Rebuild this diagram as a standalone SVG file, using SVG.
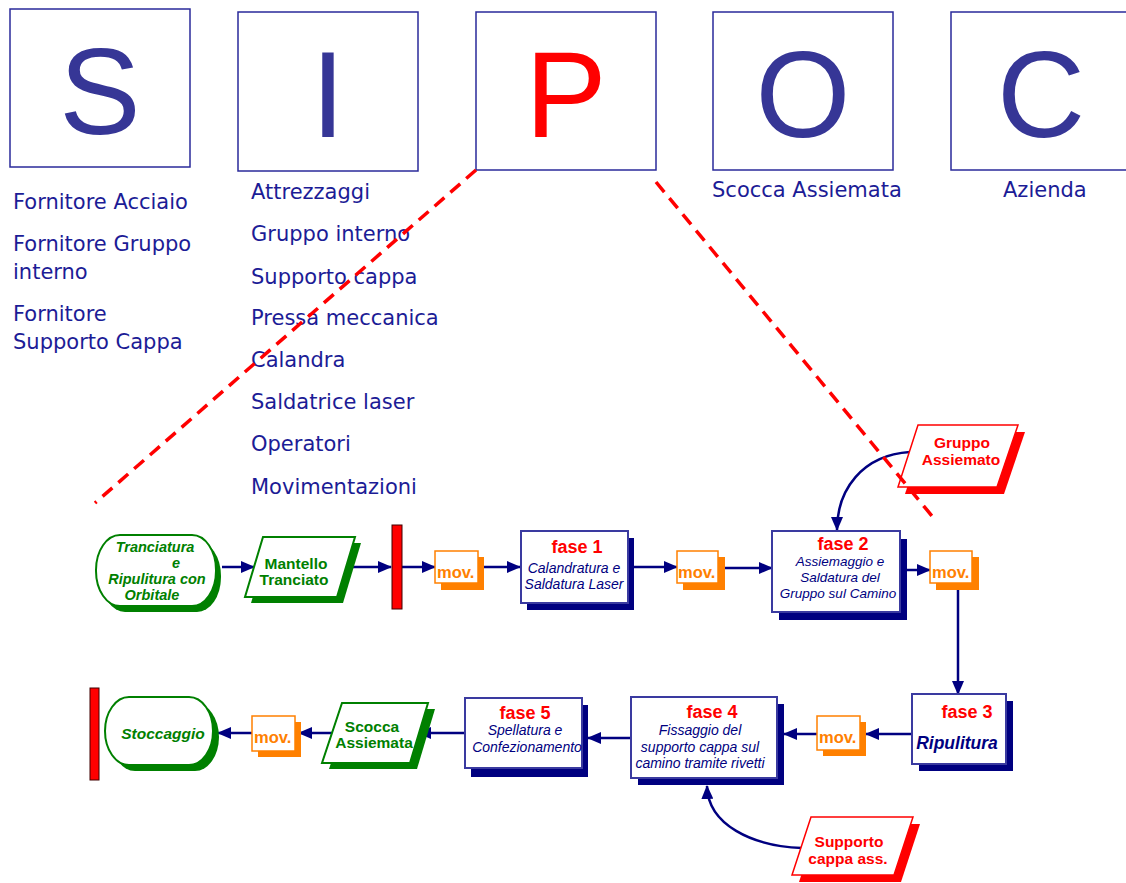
<svg xmlns="http://www.w3.org/2000/svg" width="1126" height="883" viewBox="0 0 1126 883">
<defs>
<marker id="ah" viewBox="0 0 14 12" refX="13" refY="6" markerWidth="14" markerHeight="12" markerUnits="userSpaceOnUse" orient="auto">
<path d="M0,0 L14,6 L0,12 Z" fill="#000080"/>
</marker>
<style>
.lbox{fill:#fff;stroke:#2a2a9a;stroke-width:1.5}
.letter{font-family:"Liberation Sans",Arial,sans-serif;font-size:122px;fill:#363696;text-anchor:middle}
.list{font-family:"DejaVu Sans","Comic Sans MS",sans-serif;font-size:21px;fill:#1c1c96}
.conn{fill:none;stroke:#000080;stroke-width:2.5;marker-end:url(#ah)}
.dash{fill:none;stroke:#ff0000;stroke-width:3.5;stroke-dasharray:13 8}
.fbox{fill:#fff;stroke:#3a3aa0;stroke-width:2}
.fsh{fill:#000080}
.gsh{fill:#008000}
.gshape{fill:#fff;stroke:#008000;stroke-width:2}
.rsh{fill:#ff0000}
.rshape{fill:#fff;stroke:#ff0000;stroke-width:1.5}
.osh{fill:#ff8000}
.oshape{fill:#fff;stroke:#ff8000;stroke-width:1.5}
.bar{fill:#ff0000;stroke:#400000;stroke-width:1}
.ft{font-family:"Liberation Sans",Arial,sans-serif;font-weight:bold;font-size:18px;fill:#ff0000;text-anchor:middle}
.fd{font-family:"Liberation Sans",Arial,sans-serif;font-style:italic;font-size:14px;fill:#000080;text-anchor:middle}
.gt{font-family:"Liberation Sans",Arial,sans-serif;font-weight:bold;font-size:15.5px;fill:#008000;text-anchor:middle}
.gti{font-family:"Liberation Sans",Arial,sans-serif;font-weight:bold;font-style:italic;font-size:14.5px;fill:#008000;text-anchor:middle}
.rt{font-family:"Liberation Sans",Arial,sans-serif;font-weight:bold;font-size:15.5px;fill:#ff0000;text-anchor:middle}
.mt{font-family:"Liberation Sans",Arial,sans-serif;font-weight:bold;font-size:16.5px;fill:#ff8000}
</style>
</defs>
<rect width="1126" height="883" fill="#fff"/>

<g id="sipoc-S"><rect class="lbox" x="10" y="9" width="180" height="158"/><text class="letter" x="100" y="134">S</text></g>
<g id="sipoc-I"><rect class="lbox" x="238" y="12" width="180" height="159"/><text class="letter" x="328" y="137">I</text></g>
<g id="sipoc-P"><rect class="lbox" x="476" y="12" width="180" height="158"/><text class="letter" x="566" y="137" style="fill:#ff0000">P</text></g>
<g id="sipoc-O"><rect class="lbox" x="713" y="12" width="180" height="158"/><text class="letter" x="803" y="137">O</text></g>
<g id="sipoc-C"><rect class="lbox" x="951" y="12" width="180" height="158"/><text class="letter" x="1041" y="137">C</text></g>

<g id="list-S" class="list">
<text x="13" y="209">Fornitore Acciaio</text>
<text x="13" y="251">Fornitore Gruppo</text>
<text x="13" y="279">interno</text>
<text x="13" y="321">Fornitore</text>
<text x="13" y="349">Supporto Cappa</text>
</g>
<g id="list-I" class="list">
<text x="251" y="199">Attrezzaggi</text>
<text x="251" y="241">Gruppo interno</text>
<text x="251" y="284">Supporto cappa</text>
<text x="251" y="325">Pressa meccanica</text>
<text x="251" y="367">Calandra</text>
<text x="251" y="409">Saldatrice laser</text>
<text x="251" y="451">Operatori</text>
<text x="251" y="494">Movimentazioni</text>
</g>
<g id="list-O" class="list"><text x="712" y="197">Scocca Assiemata</text></g>
<g id="list-C" class="list"><text x="1003" y="197">Azienda</text></g>

<g id="connectors">
<path class="conn" d="M222 567 H254"/>
<path class="conn" d="M346 567 H391"/>
<path class="conn" d="M402 567 H435"/>
<path class="conn" d="M484 567 H520"/>
<path class="conn" d="M634 567 H677"/>
<path class="conn" d="M725 568 H772"/>
<path class="conn" d="M907 570 H930"/>
<path class="conn" d="M958 590 V694"/>
<path class="conn" d="M912 734 H866"/>
<path class="conn" d="M817 734 H784"/>
<path class="conn" d="M631 738 H588"/>
<path class="conn" d="M465 733 H418"/>
<path class="conn" d="M333 733 H299"/>
<path class="conn" d="M252 733 H218"/>
<path class="conn" d="M910 452 C862 455 837 490 837 530"/>
<path class="conn" d="M802 848 C752 846 708 825 707 786"/>
</g>

<g id="tranciatura">
<rect class="gsh" x="101" y="541" width="120" height="71" rx="24" ry="35"/>
<rect class="gshape" x="96" y="535" width="120" height="71" rx="24" ry="35"/>
<text class="gti" x="155" y="552">Tranciatura</text>
<text class="gti" x="176" y="568">e</text>
<text class="gti" x="157" y="584">Ripulitura con</text>
<text class="gti" x="152" y="600">Orbitale</text>
</g>
<g id="mantello">
<polygon class="gsh" points="269,543 361,543 343,603 251,603"/>
<polygon class="gshape" points="263,537 355,537 337,597 245,597"/>
<text class="gt" x="296" y="569">Mantello</text>
<text class="gt" x="294" y="585">Tranciato</text>
</g>
<g id="bar1"><rect class="bar" x="392" y="525" width="10" height="84"/></g>
<g id="mov1">
<rect class="osh" x="441" y="557" width="43" height="33"/>
<rect class="oshape" x="435" y="551" width="43" height="32"/>
<text class="mt" x="437" y="578">mov.</text>
</g>
<g id="fase1">
<rect class="fsh" x="527" y="538" width="107" height="72"/>
<rect class="fbox" x="521" y="531" width="107" height="72"/>
<text class="ft" x="577" y="553">fase 1</text>
<text class="fd" x="574" y="573">Calandratura e</text>
<text class="fd" x="574" y="589">Saldatura Laser</text>
</g>
<g id="mov2">
<rect class="osh" x="683" y="557" width="42" height="33"/>
<rect class="oshape" x="677" y="551" width="41" height="32"/>
<text class="mt" x="678" y="578">mov.</text>
</g>
<g id="fase2">
<rect class="fsh" x="779" y="539" width="128" height="81"/>
<rect class="fbox" x="772" y="531" width="128" height="81"/>
<text class="ft" x="843" y="550">fase 2</text>
<text class="fd" x="840" y="566" style="font-size:13.5px">Assiemaggio e</text>
<text class="fd" x="840" y="582" style="font-size:13.5px">Saldatura del</text>
<text class="fd" x="838" y="598" style="font-size:13.5px">Gruppo sul Camino</text>
</g>
<g id="mov3">
<rect class="osh" x="936" y="557" width="43" height="33"/>
<rect class="oshape" x="930" y="551" width="42" height="32"/>
<text class="mt" x="932" y="578">mov.</text>
</g>
<g id="gruppo-assiemato">
<polygon class="rsh" points="925,432 1025,432 1004,494 905,494"/>
<polygon class="rshape" points="918,425 1018,425 997,487 898,487"/>
<text class="rt" x="962" y="448">Gruppo</text>
<text class="rt" x="961" y="465">Assiemato</text>
</g>
<g id="fase3">
<rect class="fsh" x="919" y="701" width="94" height="70"/>
<rect class="fbox" x="912" y="694" width="94" height="70"/>
<text class="ft" x="967" y="718">fase 3</text>
<text class="fd" x="957" y="749" style="font-weight:bold;font-size:17.5px">Ripulitura</text>
</g>
<g id="mov4">
<rect class="osh" x="823" y="722" width="43" height="34"/>
<rect class="oshape" x="817" y="716" width="43" height="34"/>
<text class="mt" x="819" y="743">mov.</text>
</g>
<g id="fase4">
<rect class="fsh" x="638" y="704" width="146" height="81"/>
<rect class="fbox" x="631" y="697" width="146" height="81"/>
<text class="ft" x="712" y="718">fase 4</text>
<text class="fd" x="700" y="735">Fissaggio del</text>
<text class="fd" x="700" y="752">supporto cappa sul</text>
<text class="fd" x="700" y="768">camino tramite rivetti</text>
</g>
<g id="supporto-cappa">
<polygon class="rsh" points="818,824 920,824 901,882 799,882"/>
<polygon class="rshape" points="811,817 913,817 894,875 792,875"/>
<text class="rt" x="849" y="847">Supporto</text>
<text class="rt" x="848" y="864">cappa ass.</text>
</g>
<g id="fase5">
<rect class="fsh" x="471" y="705" width="117" height="72"/>
<rect class="fbox" x="465" y="698" width="117" height="70"/>
<text class="ft" x="525" y="719">fase 5</text>
<text class="fd" x="525" y="735">Spellatura e</text>
<text class="fd" x="527" y="752">Confezionamento</text>
</g>
<g id="scocca">
<polygon class="gsh" points="349,709 435,709 417,769 329,769"/>
<polygon class="gshape" points="342,703 428,703 410,763 322,763"/>
<text class="gt" x="372" y="732">Scocca</text>
<text class="gt" x="374" y="748">Assiemata</text>
</g>
<g id="mov5">
<rect class="osh" x="258" y="722" width="43" height="35"/>
<rect class="oshape" x="252" y="716" width="43" height="35"/>
<text class="mt" x="254" y="743">mov.</text>
</g>
<g id="stoccaggio">
<rect class="gsh" x="111" y="703" width="108" height="68" rx="24" ry="34"/>
<rect class="gshape" x="105" y="697" width="108" height="68" rx="24" ry="34"/>
<text class="gti" x="163" y="739" style="font-size:15.5px">Stoccaggio</text>
</g>
<g id="bar2"><rect class="bar" x="90" y="688" width="9" height="92"/></g>

<g id="zoom-lines">
<path class="dash" d="M476 170 L95 503"/>
<path class="dash" d="M656 182 L932 516"/>
</g>
</svg>
